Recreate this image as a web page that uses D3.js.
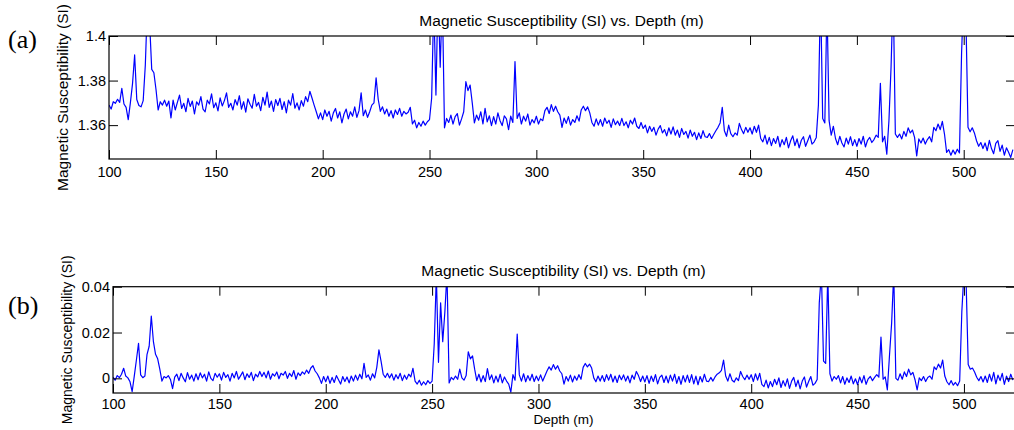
<!DOCTYPE html>
<html>
<head>
<meta charset="utf-8">
<script src="https://cdn.jsdelivr.net/npm/d3@7/dist/d3.min.js"></script>
<style>
  html, body { margin: 0; padding: 0; background: #fff; }
  svg { display: block; }
  text { font-family: "Liberation Sans", Arial, sans-serif; fill: #000; }
</style>
</head>
<body>
<svg id="chart" width="1014" height="430"></svg>
<script>
// ---------- DATA ----------
const titleText = "Magnetic Susceptibility (SI) vs. Depth (m)";
const yLabelText = "Magnetic Susceptibility (SI)";
const xLabelText = "Depth (m)";
const panelLabels = ["(a)", "(b)"];
const depthStart = 100;   // first sample depth (m), 1 m spacing
const xTicks = [100, 150, 200, 250, 300, 350, 400, 450, 500];
const yTicksA = [1.36, 1.38, 1.4];
const yTicksB = [0, 0.02, 0.04];

// Panel (a): raw magnetic susceptibility, one value per metre from 100 m
const susceptibilityRaw = [
  1.3690,1.3672,1.3705,1.3698,1.3716,1.3702,1.3765,1.3695,1.3680,1.3625, // 100
  1.3700,1.3785,1.3915,1.3715,1.3688,1.3682,1.3710,1.3870,1.4150,1.4060, // 110
  1.3850,1.3835,1.3760,1.3668,1.3705,1.3690,1.3712,1.3685,1.3708,1.3632, // 120
  1.3712,1.3668,1.3702,1.3735,1.3675,1.3698,1.3660,1.3720,1.3684,1.3708, // 130
  1.3650,1.3705,1.3690,1.3728,1.3672,1.3660,1.3712,1.3695,1.3740,1.3678, // 140
  1.3700,1.3664,1.3722,1.3686,1.3710,1.3745,1.3680,1.3698,1.3668,1.3715, // 150
  1.3690,1.3732,1.3672,1.3705,1.3658,1.3718,1.3694,1.3676,1.3738,1.3685, // 160
  1.3702,1.3665,1.3725,1.3690,1.3748,1.3680,1.3708,1.3662,1.3715,1.3688, // 170
  1.3720,1.3670,1.3705,1.3655,1.3712,1.3690,1.3742,1.3676,1.3700,1.3668, // 180
  1.3710,1.3685,1.3728,1.3705,1.3752,1.3722,1.3690,1.3660,1.3628,1.3655, // 190
  1.3625,1.3668,1.3640,1.3662,1.3618,1.3655,1.3675,1.3632,1.3660,1.3610, // 200
  1.3650,1.3672,1.3628,1.3660,1.3640,1.3682,1.3635,1.3665,1.3745,1.3642, // 210
  1.3668,1.3635,1.3660,1.3690,1.3700,1.3812,1.3715,1.3662,1.3682,1.3650, // 220
  1.3672,1.3640,1.3665,1.3632,1.3668,1.3648,1.3675,1.3640,1.3662,1.3650, // 230
  1.3658,1.3680,1.3605,1.3622,1.3588,1.3612,1.3595,1.3618,1.3600,1.3615, // 240
  1.3625,1.3722,1.4150,1.3735,1.4200,1.3860,1.4180,1.3588,1.3630,1.3612, // 250
  1.3645,1.3605,1.3638,1.3652,1.3600,1.3628,1.3660,1.3795,1.3755,1.3780, // 260
  1.3700,1.3610,1.3645,1.3622,1.3660,1.3605,1.3675,1.3615,1.3642,1.3598, // 270
  1.3638,1.3605,1.3655,1.3620,1.3598,1.3642,1.3628,1.3580,1.3640,1.3612, // 280
  1.3885,1.3630,1.3655,1.3605,1.3640,1.3618,1.3650,1.3600,1.3625,1.3610, // 290
  1.3640,1.3605,1.3628,1.3620,1.3665,1.3680,1.3652,1.3692,1.3662,1.3685, // 300
  1.3660,1.3645,1.3590,1.3632,1.3608,1.3638,1.3600,1.3625,1.3612,1.3642, // 310
  1.3618,1.3668,1.3685,1.3665,1.3682,1.3655,1.3612,1.3595,1.3628,1.3600, // 320
  1.3625,1.3595,1.3632,1.3608,1.3622,1.3590,1.3628,1.3602,1.3618,1.3598, // 330
  1.3630,1.3598,1.3615,1.3588,1.3622,1.3605,1.3632,1.3595,1.3585,1.3612, // 340
  1.3585,1.3600,1.3565,1.3595,1.3572,1.3590,1.3555,1.3582,1.3598,1.3565, // 350
  1.3580,1.3552,1.3588,1.3560,1.3592,1.3555,1.3578,1.3545,1.3585,1.3558, // 360
  1.3572,1.3542,1.3578,1.3550,1.3568,1.3535,1.3565,1.3540,1.3575,1.3548, // 370
  1.3545,1.3562,1.3540,1.3558,1.3575,1.3590,1.3610,1.3680,1.3575,1.3550, // 380
  1.3600,1.3562,1.3548,1.3565,1.3555,1.3608,1.3580,1.3562,1.3590,1.3568, // 390
  1.3588,1.3560,1.3595,1.3568,1.3600,1.3540,1.3525,1.3555,1.3515,1.3545, // 400
  1.3508,1.3540,1.3518,1.3550,1.3502,1.3535,1.3512,1.3545,1.3498,1.3530, // 410
  1.3552,1.3508,1.3538,1.3498,1.3532,1.3548,1.3505,1.3530,1.3555,1.3515, // 420
  1.3525,1.3545,1.3690,1.4200,1.3630,1.3610,1.4150,1.3620,1.3555,1.3595, // 430
  1.3540,1.3512,1.3550,1.3520,1.3502,1.3542,1.3515,1.3548,1.3508,1.3535, // 440
  1.3505,1.3540,1.3515,1.3550,1.3502,1.3532,1.3545,1.3522,1.3535,1.3555, // 450
  1.3545,1.3788,1.3525,1.3550,1.3470,1.3620,1.3862,1.4200,1.3560,1.3545, // 460
  1.3560,1.3538,1.3572,1.3550,1.3588,1.3565,1.3578,1.3545,1.3462,1.3538, // 470
  1.3520,1.3542,1.3515,1.3535,1.3548,1.3525,1.3590,1.3575,1.3605,1.3580, // 480
  1.3617,1.3560,1.3478,1.3490,1.3465,1.3488,1.3470,1.3492,1.3475,1.3924, // 490
  1.4200,1.4100,1.3590,1.3570,1.3588,1.3565,1.3530,1.3505,1.3522,1.3495, // 500
  1.3520,1.3485,1.3532,1.3495,1.3472,1.3518,1.3530,1.3482,1.3510,1.3465, // 510
  1.3498,1.3478,1.3455,1.3490                                            // 520
];

// Panel (b): baseline-corrected magnetic susceptibility, one value per metre from 100 m
const susceptibilityCorrected = [
  0.0005,-0.0008,0.0012,0.0003,0.0018,0.0044,0.0010,0.0002,-0.0015,-0.0058, // 100
  0.0010,0.0080,0.0153,0.0015,0.0003,0.0010,0.0105,0.0140,0.0272,0.0160, // 110
  0.0105,0.0085,0.0040,-0.0012,0.0008,0.0002,0.0012,-0.0005,-0.0045,0.0005, // 120
  0.0018,-0.0010,0.0022,0.0002,-0.0015,0.0025,-0.0004,0.0014,-0.0012,0.0020, // 130
  -0.0006,0.0024,0.0002,0.0018,-0.0012,0.0028,0.0000,-0.0010,0.0022,0.0005, // 140
  0.0020,-0.0008,0.0026,0.0004,0.0016,-0.0012,0.0022,0.0002,0.0030,-0.0004, // 150
  0.0012,0.0028,-0.0006,0.0020,0.0004,0.0026,-0.0010,0.0018,0.0006,0.0030, // 160
  0.0008,0.0026,0.0002,0.0032,-0.0004,0.0020,0.0010,0.0028,-0.0002,0.0022, // 170
  0.0014,0.0030,0.0000,0.0022,0.0008,0.0034,-0.0004,0.0024,0.0012,0.0028, // 180
  0.0018,0.0036,0.0022,0.0045,0.0055,0.0032,0.0020,0.0002,-0.0022,0.0008, // 190
  -0.0015,0.0010,-0.0022,0.0004,-0.0018,0.0012,-0.0006,-0.0025,0.0008,-0.0014, // 200
  0.0006,-0.0020,0.0010,-0.0012,0.0014,-0.0008,0.0018,-0.0002,0.0065,0.0004, // 210
  0.0015,-0.0008,0.0020,0.0002,0.0048,0.0124,0.0075,0.0018,0.0004,0.0022, // 220
  0.0002,0.0020,-0.0008,0.0016,-0.0002,0.0022,-0.0010,0.0014,-0.0004,0.0018, // 230
  0.0006,0.0044,-0.0012,-0.0025,-0.0008,-0.0030,-0.0015,-0.0028,-0.0010,-0.0022, // 240
  -0.0012,0.0150,0.0450,0.0070,0.0330,0.0160,0.0290,0.0460,-0.0020,0.0004, // 250
  -0.0006,0.0010,-0.0004,0.0040,0.0002,-0.0008,0.0012,0.0116,0.0085,0.0098, // 260
  0.0040,-0.0010,0.0018,-0.0016,0.0012,-0.0014,0.0042,-0.0006,0.0015,-0.0020, // 270
  0.0010,-0.0016,0.0018,-0.0020,0.0006,-0.0012,-0.0025,-0.0060,0.0016,-0.0008, // 280
  0.0193,0.0015,-0.0012,0.0020,-0.0015,0.0012,-0.0010,0.0018,-0.0014,0.0010, // 290
  -0.0010,0.0015,-0.0012,0.0010,0.0032,0.0050,0.0036,0.0060,0.0040,0.0055, // 300
  0.0032,0.0020,-0.0025,0.0008,-0.0012,0.0014,-0.0016,0.0010,-0.0008,0.0016, // 310
  -0.0004,0.0048,0.0065,0.0050,0.0062,0.0045,0.0002,-0.0015,0.0010,-0.0012, // 320
  0.0012,-0.0014,0.0016,-0.0008,0.0018,-0.0016,0.0010,-0.0018,0.0014,-0.0006, // 330
  0.0015,-0.0012,0.0010,-0.0020,0.0014,-0.0004,0.0030,0.0012,-0.0014,0.0010, // 340
  -0.0016,0.0012,-0.0022,0.0010,-0.0014,0.0016,-0.0024,0.0004,0.0014,-0.0018, // 350
  0.0010,-0.0020,0.0014,-0.0012,0.0018,-0.0022,0.0008,-0.0026,0.0012,-0.0016, // 360
  0.0014,-0.0018,0.0016,-0.0024,0.0010,-0.0028,0.0008,-0.0016,0.0018,-0.0012, // 370
  -0.0014,0.0004,-0.0012,0.0006,0.0018,0.0024,0.0035,0.0080,0.0010,-0.0012, // 380
  0.0020,-0.0008,-0.0016,0.0002,-0.0010,0.0030,0.0008,-0.0006,0.0014,-0.0004, // 390
  0.0016,-0.0014,0.0020,-0.0008,0.0022,-0.0026,-0.0036,-0.0008,-0.0042,-0.0014, // 400
  -0.0036,-0.0004,-0.0028,0.0002,-0.0040,-0.0010,-0.0034,-0.0002,-0.0044,-0.0012, // 410
  0.0004,-0.0036,-0.0008,-0.0046,-0.0012,0.0006,-0.0038,-0.0014,0.0008,-0.0030, // 420
  -0.0022,-0.0005,0.0330,0.0460,0.0075,0.0065,0.0460,0.0020,-0.0012,0.0008, // 430
  -0.0004,0.0012,-0.0020,0.0008,-0.0026,0.0002,-0.0018,0.0010,-0.0024,-0.0002, // 440
  -0.0028,0.0006,-0.0020,0.0012,-0.0026,-0.0002,0.0008,-0.0010,0.0004,0.0016, // 450
  0.0005,0.0180,-0.0004,0.0006,-0.0050,0.0100,0.0240,0.0460,0.0000,-0.0008, // 460
  0.0020,-0.0004,0.0028,0.0008,0.0040,0.0015,0.0026,-0.0006,-0.0050,0.0002, // 470
  -0.0010,0.0008,-0.0014,0.0004,0.0010,-0.0004,0.0050,0.0038,0.0062,0.0045, // 480
  0.0080,0.0010,-0.0015,-0.0028,-0.0010,-0.0030,-0.0018,-0.0032,-0.0012,0.0290, // 490
  0.0460,0.0430,0.0060,0.0040,0.0045,0.0028,0.0005,-0.0010,0.0008,-0.0016, // 500
  0.0010,-0.0018,0.0018,-0.0012,0.0026,-0.0024,0.0014,-0.0010,0.0022,-0.0026, // 510
  0.0010,-0.0014,0.0018,-0.0008                                              // 520
];

// ---------- DRAW ----------
const svg = d3.select("#chart");
const xDomain = [100, 524];

const panels = [
  { values: susceptibilityRaw, yDomain: [1.3448, 1.4], yTicks: yTicksA,
    left: 109, right: 1015, top: 36, bottom: 159,
    xPad: 7.5, yLabelX: 68, yLabelSize: 15.5, titleSize: 15.5,
    panelLabel: panelLabels[0], panelLabelY: 48, showXLabel: false,
    fmt: d => d === 1.4 ? "1.4" : d3.format(".2f")(d) },
  { values: susceptibilityCorrected, yDomain: [-0.0064, 0.04], yTicks: yTicksB,
    left: 113, right: 1015, top: 286.7, bottom: 393,
    xPad: 6, yLabelX: 72, yLabelSize: 14, titleSize: 15.5,
    panelLabel: panelLabels[1], panelLabelY: 314, showXLabel: true,
    fmt: d => d === 0 ? "0" : d3.format(".2f")(d) }
];

panels.forEach((p, pi) => {
  const x = d3.scaleLinear().domain(xDomain).range([p.left, p.right]);
  const y = d3.scaleLinear().domain(p.yDomain).range([p.bottom, p.top]);
  const g = svg.append("g");

  const clipId = "clip" + pi;
  svg.append("clipPath").attr("id", clipId).append("rect")
    .attr("x", p.left).attr("y", p.top)
    .attr("width", p.right - p.left).attr("height", p.bottom - p.top);

  const line = d3.line()
    .x((d, i) => x(depthStart + i))
    .y(d => y(d));

  g.append("path")
    .datum(p.values)
    .attr("clip-path", `url(#${clipId})`)
    .attr("fill", "none")
    .attr("stroke", "#0000ff")
    .attr("stroke-width", 1.2)
    .attr("stroke-linejoin", "round")
    .attr("d", line);

  const tick = 9;
  const styleAxis = sel => {
    sel.select(".domain").remove();
    sel.selectAll(".tick line").attr("stroke", "#000").attr("stroke-width", 1);
    sel.selectAll(".tick text").attr("font-size", "14.5px")
      .attr("font-family", '"Liberation Sans", Arial, sans-serif').attr("fill", "#000");
  };

  g.append("g").attr("transform", `translate(0,${p.bottom})`)
    .call(d3.axisBottom(x).tickValues(xTicks).tickSize(-tick).tickPadding(p.xPad).tickFormat(d3.format("d")))
    .call(styleAxis);
  g.append("g").attr("transform", `translate(0,${p.top})`)
    .call(d3.axisTop(x).tickValues(xTicks).tickSize(-tick).tickFormat(""))
    .call(styleAxis);
  g.append("g").attr("transform", `translate(${p.left},0)`)
    .call(d3.axisLeft(y).tickValues(p.yTicks).tickSize(-tick).tickPadding(3).tickFormat(p.fmt))
    .call(styleAxis);
  g.append("g").attr("transform", `translate(${p.right},0)`)
    .call(d3.axisRight(y).tickValues(p.yTicks).tickSize(-tick).tickFormat(""))
    .call(styleAxis);

  g.append("rect")
    .attr("x", p.left).attr("y", p.top)
    .attr("width", p.right - p.left).attr("height", p.bottom - p.top)
    .attr("fill", "none").attr("stroke", "#000").attr("stroke-width", 1.2);

  const cx = (p.left + 1014) / 2;
  g.append("text")
    .attr("x", cx).attr("y", p.top - 10.5)
    .attr("text-anchor", "middle")
    .attr("font-size", p.titleSize + "px")
    .text(titleText);

  g.append("text")
    .attr("transform", `translate(${p.yLabelX},${(p.top + p.bottom) / 2}) rotate(-90)`)
    .attr("text-anchor", "middle")
    .attr("font-size", p.yLabelSize + "px")
    .text(yLabelText);

  g.append("text")
    .attr("x", 8).attr("y", p.panelLabelY)
    .attr("font-size", "26px")
    .style("font-family", '"Liberation Serif", "Times New Roman", serif')
    .text(p.panelLabel);

  if (p.showXLabel) {
    g.append("text")
      .attr("x", cx).attr("y", 424)
      .attr("text-anchor", "middle")
      .attr("font-size", "13.5px")
      .text(xLabelText);
  }
});
</script>
</body>
</html>
